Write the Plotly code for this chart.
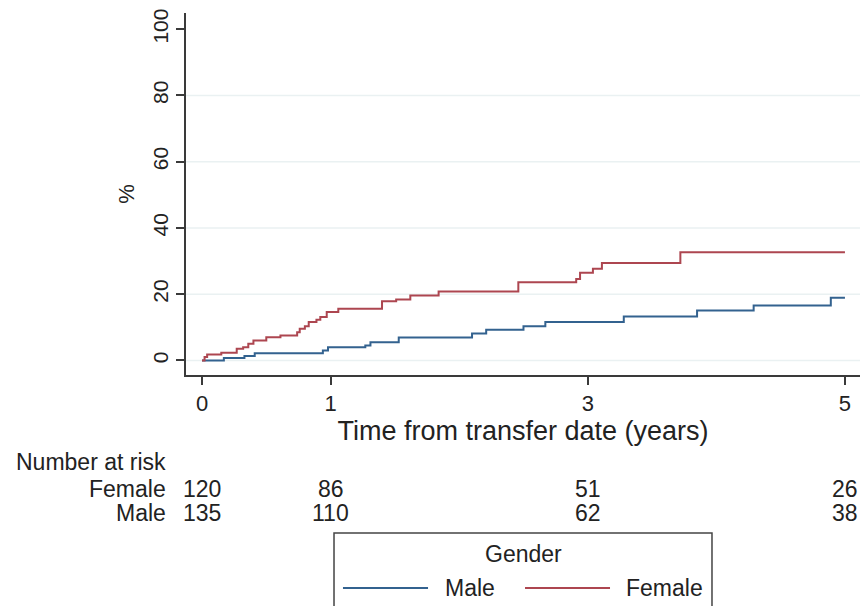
import plotly.graph_objects as go

# Cumulative incidence (%) by gender, step functions
female_t = [0, 0.02, 0.04, 0.15, 0.27, 0.32, 0.36, 0.40, 0.50, 0.61, 0.74, 0.76, 0.80,
            0.83, 0.89, 0.92, 0.97, 1.06, 1.40, 1.51, 1.62, 1.84, 2.46, 2.91, 2.94,
            3.04, 3.11, 3.72, 5.0]
female_pct = [0, 1.0, 1.8, 2.3, 3.5, 4.0, 5.0, 6.0, 7.0, 7.5, 8.5, 9.6, 10.3,
              11.6, 12.3, 13.1, 14.6, 15.6, 17.9, 18.4, 19.6, 20.8, 23.6, 24.6, 26.5,
              27.7, 29.4, 32.7, 32.7]

male_t = [0, 0.17, 0.33, 0.41, 0.94, 0.98, 1.27, 1.31, 1.53, 2.10, 2.21, 2.50,
          2.67, 3.28, 3.85, 4.29, 4.89, 5.0]
male_pct = [0, 0.7, 1.3, 2.2, 3.0, 4.0, 4.5, 5.5, 6.9, 8.1, 9.3, 10.3,
            11.6, 13.3, 15.1, 16.6, 18.9, 18.9]

# Number-at-risk table
risk_times = [0, 1, 3, 5]
risk_female = [120, 86, 51, 26]
risk_male = [135, 110, 62, 38]

x_ticks = [0, 1, 3, 5]
y_ticks = [0, 20, 40, 60, 80, 100]
grid_values = [0, 20, 40, 60, 80]

MALE_COLOR = "#33628f"
FEMALE_COLOR = "#ad4650"
AXIS_COLOR = "#3a3a3a"
TEXT_COLOR = "#222222"
FONT = "Liberation Sans, Arial, sans-serif"


def font(size):
    return dict(family=FONT, size=size, color=TEXT_COLOR)


TABLE_FS = 23

fig = go.Figure()
fig.add_trace(go.Scatter(x=male_t, y=male_pct, mode="lines", line_shape="hv",
                         line=dict(color=MALE_COLOR, width=2), name="Male",
                         showlegend=False))
fig.add_trace(go.Scatter(x=female_t, y=female_pct, mode="lines", line_shape="hv",
                         line=dict(color=FEMALE_COLOR, width=2), name="Female",
                         showlegend=False))

shapes = []
for g in grid_values:
    shapes.append(dict(type="line", xref="paper", x0=0, x1=1, yref="y", y0=g, y1=g,
                       line=dict(color="#eaf1f2", width=1.5), layer="below"))

# Legend box
shapes.append(dict(type="rect", xref="paper", yref="paper", x0=0.2196, x1=0.7804,
                   y0=-0.4365, y1=-0.70, line=dict(color="#444444", width=1.5),
                   fillcolor="white"))
shapes.append(dict(type="line", xref="paper", yref="paper", x0=0.2329, x1=0.3591,
                   y0=-0.5884, y1=-0.5884, line=dict(color=MALE_COLOR, width=2)))
shapes.append(dict(type="line", xref="paper", yref="paper", x0=0.5030, x1=0.6291,
                   y0=-0.5884, y1=-0.5884, line=dict(color=FEMALE_COLOR, width=2)))

annotations = []
txt = font(TABLE_FS)
annotations.append(dict(text="Number at risk", xref="paper", yref="paper", x=-0.2552,
                        y=-0.2403, xanchor="left", yanchor="middle", showarrow=False,
                        font=txt))
row_y = {"Female": -0.3149, "Male": -0.3812}
annotations.append(dict(text="Female", xref="paper", yref="paper", x=-0.0267,
                        y=row_y["Female"], xanchor="right", yanchor="middle",
                        showarrow=False, font=txt))
annotations.append(dict(text="Male", xref="paper", yref="paper", x=-0.0267,
                        y=row_y["Male"], xanchor="right", yanchor="middle",
                        showarrow=False, font=txt))
for t, f, m in zip(risk_times, risk_female, risk_male):
    annotations.append(dict(text=str(f), xref="x", yref="paper", x=t, y=row_y["Female"],
                            xanchor="center", yanchor="middle", showarrow=False, font=txt))
    annotations.append(dict(text=str(m), xref="x", yref="paper", x=t, y=row_y["Male"],
                            xanchor="center", yanchor="middle", showarrow=False, font=txt))

annotations.append(dict(text="Gender", xref="paper", yref="paper", x=0.5, y=-0.4945,
                        xanchor="center", yanchor="middle", showarrow=False, font=txt))
annotations.append(dict(text="Male", xref="paper", yref="paper", x=0.3813, y=-0.5884,
                        xanchor="left", yanchor="middle", showarrow=False, font=txt))
annotations.append(dict(text="Female", xref="paper", yref="paper", x=0.6499, y=-0.5884,
                        xanchor="left", yanchor="middle", showarrow=False, font=txt))

fig.update_layout(
    width=862, height=606,
    margin=dict(l=186, r=2, t=13, b=231),
    paper_bgcolor="white", plot_bgcolor="white",
    font=txt,
    shapes=shapes, annotations=annotations,
    xaxis=dict(range=[-0.1244, 5.117], tickvals=x_ticks, ticktext=[str(v) for v in x_ticks],
               showgrid=False, zeroline=False, showline=True, linecolor=AXIS_COLOR,
               linewidth=2, ticks="outside", ticklen=8, tickwidth=2, tickcolor=AXIS_COLOR,
               tickfont=font(22),
               title=dict(text="Time from transfer date (years)", font=font(27),
                          standoff=0)),
    yaxis=dict(range=[-4.4, 104.9], tickvals=y_ticks, showgrid=False, zeroline=False,
               showline=True, linecolor=AXIS_COLOR, linewidth=2, ticks="outside",
               ticklen=8, tickwidth=2, tickcolor=AXIS_COLOR, tickangle=-90,
               tickfont=font(21), title=dict(text="%", font=font(22), standoff=8)),
)

fig.write_html("out.html")
